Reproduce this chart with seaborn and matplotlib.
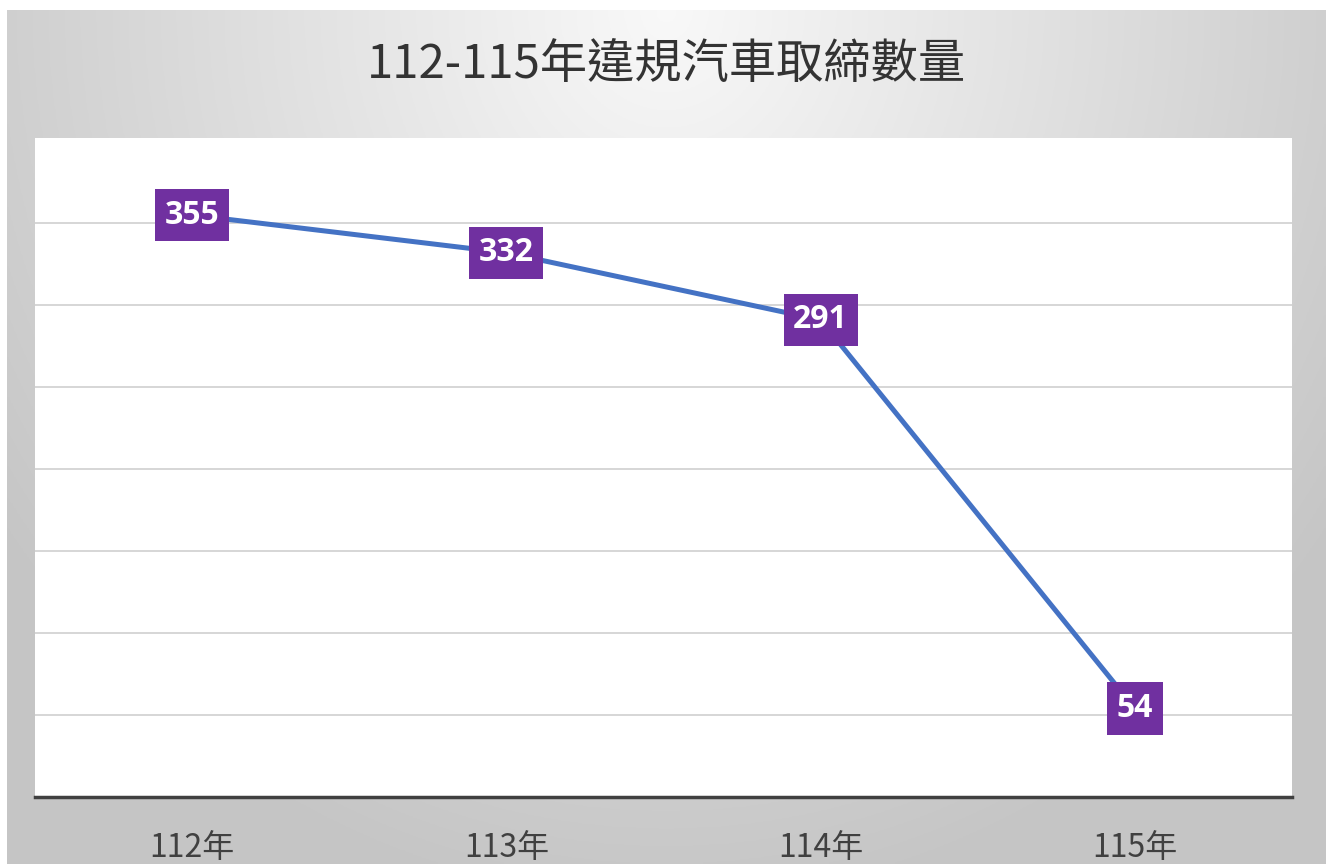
import numpy as np
import pandas as pd
import matplotlib
matplotlib.use("Agg")
import matplotlib.pyplot as plt
import seaborn as sns

years = ["112年", "113年", "114年", "115年"]
counts = [355, 332, 291, 54]
title = "112-115年違規汽車取締數量"

df = pd.DataFrame({"year": years, "count": counts})

sns.set_style("white")
plt.rcParams["font.family"] = ["Noto Sans CJK TC", "DejaVu Sans"]

W, H = 1333, 864
fig = plt.figure(figsize=(W / 100, H / 100), dpi=100, facecolor="white")

# gradient backdrop
bg = fig.add_axes([7 / W, 0, (1326 - 7) / W, (864 - 10) / H], zorder=0)
gx, gy = np.meshgrid(np.linspace(0, 1, 400), np.linspace(0, 1, 300))
r = np.sqrt(((gx - 0.5) / 0.62) ** 2 + (gy / 1.05) ** 2)
shade = 0.975 - 0.2 * np.clip(r, 0, 1)
bg.imshow(np.dstack([shade] * 3), aspect="auto", extent=[0, 1, 0, 1], origin="upper")
bg.set_axis_off()

ax = fig.add_axes([35 / W, (H - 797) / H, (1292 - 35) / W, (797 - 138) / H], zorder=1)
ax.set_facecolor("white")

sns.lineplot(data=df, x="year", y="count", ax=ax, color="#4472C4", linewidth=3.6,
             sort=False, zorder=3)

for i, v in enumerate(counts):
    ax.text(i, v, str(v), ha="center", va="center", fontsize=23, fontweight="bold",
            color="white", family=["Open Sans", "DejaVu Sans"], zorder=4,
            bbox=dict(boxstyle="square,pad=0.3", facecolor="#7030A0", edgecolor="none"))

ax.set_xlim(-0.5, 3.5)
ax.set_ylim(0, 402)
ax.set_yticks(np.arange(50, 400, 50))
ax.yaxis.grid(True, color="#d0d0d0", linewidth=1.2)
ax.set_axisbelow(True)
ax.tick_params(axis="y", left=False, labelleft=False)
ax.tick_params(axis="x", bottom=False, labelsize=23, labelcolor="#404040", pad=22)
ax.set_xlabel("")
ax.set_ylabel("")
for s in ["top", "left", "right"]:
    ax.spines[s].set_visible(False)
ax.spines["bottom"].set_color("#404040")
ax.spines["bottom"].set_linewidth(2.5)

fig.text(0.5, 1 - 65 / H, title, ha="center", va="center", fontsize=34, color="#333333")

fig.savefig("out.png", dpi=100, facecolor="white")
